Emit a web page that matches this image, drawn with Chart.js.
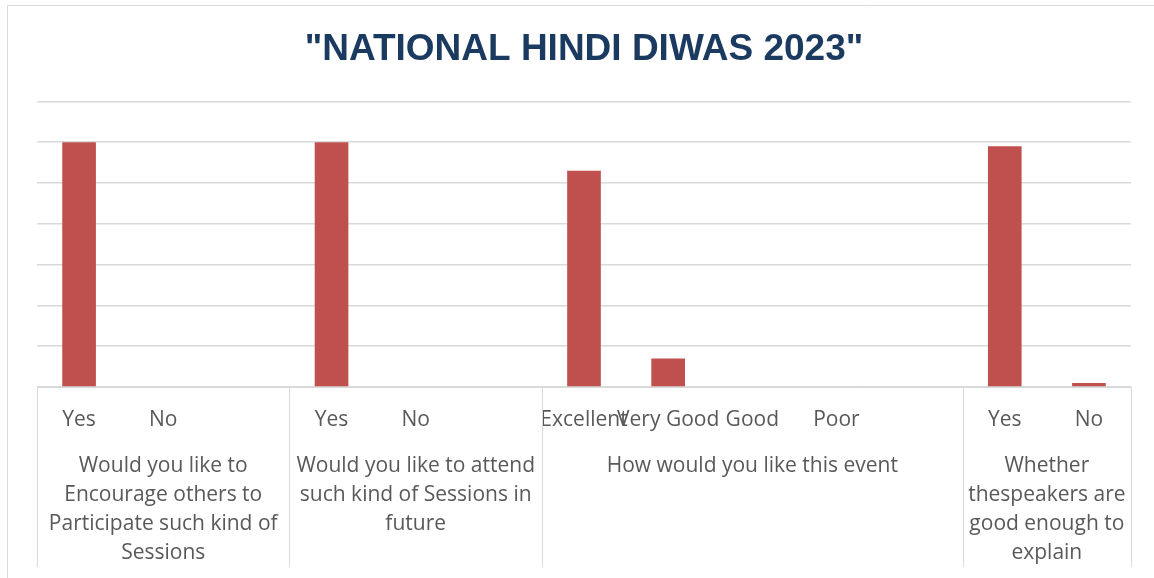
<!DOCTYPE html>
<html>
<head>
<meta charset="utf-8">
<script src="https://cdn.jsdelivr.net/npm/chart.js@4.4.0/dist/chart.umd.min.js"></script>
<style>
    html, body { margin: 0; padding: 0; background: #ffffff; }
    #wrap { width: 1154px; height: 578px; position: relative; }
</style>
</head>
<body>
<div id="wrap"><canvas id="graficoDiwas"></canvas></div>
<script>
// categorias do eixo x (os vazios sao as colunas em branco do excel)
const categorias = ['Yes', 'No', '', 'Yes', 'No', '', 'Excellent', 'Very Good', 'Good', 'Poor', '', 'Yes', 'No']
const respostas = [60, 0, null, 60, 0, null, 53, 7, 0, 0, null, 59, 1]

// grupos: texto em linhas + indice inicial/final das categorias
const gruposTexto = [
    ['Would you like to', 'Encourage others to', 'Participate such kind of', 'Sessions'],
    ['Would you like to attend', 'such kind of Sessions in', 'future'],
    ['How would you like this event'],
    ['Whether', 'thespeakers are', 'good enough to', 'explain']
]
const gruposInicio = [0, 3, 6, 11]
const gruposFim = [2, 5, 10, 12]

const corGrade = '#d9d9d9'
const corTexto = '#595959'

const moldura = {
    id: 'moldura',
    beforeDraw(chart) {
        const { ctx, width, height } = chart
        ctx.save()
        ctx.strokeStyle = corGrade
        ctx.lineWidth = 1
        ctx.beginPath()
        ctx.moveTo(7.5, height)
        ctx.lineTo(7.5, 5.5)
        ctx.lineTo(width, 5.5)
        ctx.stroke()
        ctx.restore()
    }
}

const eixoGrupos = {
    id: 'eixoGrupos',
    afterDraw(chart) {
        const { ctx, chartArea } = chart
        const x = chart.scales.x
        const passo = x.getPixelForValue(1) - x.getPixelForValue(0)
        const base = chartArea.bottom
        ctx.save()
        ctx.strokeStyle = corGrade
        ctx.lineWidth = 1

        // linhas verticais separando os grupos
        const limites = [x.getPixelForValue(0) - passo / 2]
        gruposFim.forEach(f => limites.push(x.getPixelForValue(f) + passo / 2))
        limites.forEach(px => {
            const xx = Math.round(px) + 0.5
            ctx.beginPath()
            ctx.moveTo(xx, base)
            ctx.lineTo(xx, 567)
            ctx.stroke()
        })

        ctx.font = '21px "Open Sans"'
        ctx.fillStyle = corTexto
        ctx.textAlign = 'center'
        ctx.textBaseline = 'middle'
        gruposTexto.forEach((linhas, i) => {
            const ini = x.getPixelForValue(gruposInicio[i]) - passo / 2
            const fim = x.getPixelForValue(gruposFim[i]) + passo / 2
            const cx = (ini + fim) / 2
            linhas.forEach((t, j) => {
                ctx.fillText(t, cx, 466 + j * 29)
            })
        })
        ctx.restore()
    }
}

document.addEventListener('DOMContentLoaded', () => {
const grafico = document.getElementById('graficoDiwas')
new Chart(grafico, {
    type: 'bar',
    data: {
        labels: categorias,
        datasets: [{
            data: respostas,
            backgroundColor: '#C0504D',
            borderWidth: 0,
            barPercentage: 0.4,
            categoryPercentage: 1.0
        }]
    },
    options: {
        responsive: true,
        maintainAspectRatio: false,
        animation: false,
        layout: {
            padding: { left: 37, right: 23, top: 0, bottom: 0 }
        },
        plugins: {
            legend: { display: false },
            tooltip: { enabled: false },
            title: {
                display: true,
                text: '"NATIONAL HINDI DIWAS 2023"',
                color: '#1B3A5F',
                font: { family: '"Liberation Sans", Arial', size: 37, weight: 'bold' },
                padding: { top: 28, bottom: 29 }
            }
        },
        scales: {
            x: {
                grid: { display: false },
                border: { display: true, color: corGrade },
                ticks: {
                    autoSkip: false,
                    maxRotation: 0,
                    minRotation: 0,
                    padding: 12,
                    color: corTexto,
                    font: { family: '"Open Sans"', size: 21 }
                },
                afterFit(scale) {
                    scale.height = 191
                }
            },
            y: {
                min: 0,
                max: 70,
                ticks: { display: false, stepSize: 10 },
                grid: { color: corGrade, lineWidth: 1.5, drawTicks: false },
                border: { display: false },
                afterFit(scale) {
                    scale.width = 0
                }
            }
        }
    },
    plugins: [moldura, eixoGrupos]
})
})
</script>
</body>
</html>
